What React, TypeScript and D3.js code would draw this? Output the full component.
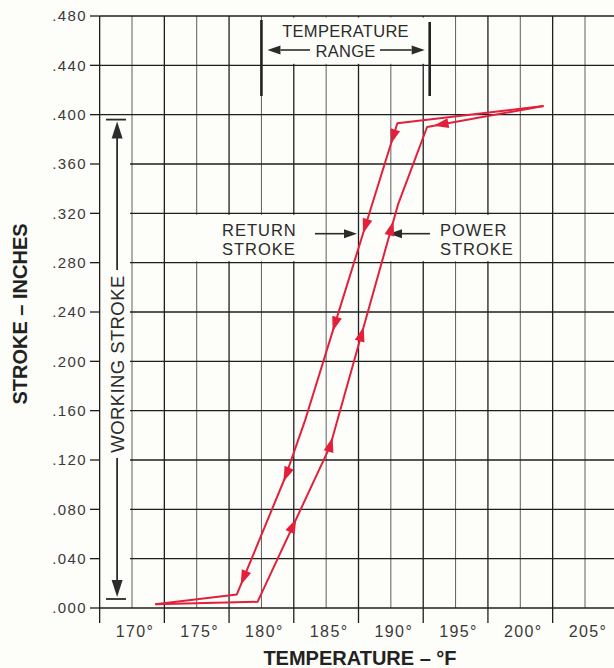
import React from 'react';
import * as d3 from 'd3';

const W = 614;
const H = 668;

// Axis ticks
const xTickTemps = [170, 175, 180, 185, 190, 195, 200, 205];
const xTickLabels = ['170°', '175°', '180°', '185°', '190°', '195°', '200°', '205°'];
const yTickValues = [0, 0.04, 0.08, 0.12, 0.16, 0.2, 0.24, 0.28, 0.32, 0.36, 0.4, 0.44, 0.48];
const yTickLabels = ['.000', '.040', '.080', '.120', '.160', '.200', '.240', '.280', '.320', '.360', '.400', '.440', '.480'];

// Power stroke (heating, upward)
const powerTemp = [171.8, 179.7, 185.3, 190.55, 192.8, 201.8];
const powerStroke = [0.003, 0.005, 0.131, 0.327, 0.39, 0.407];
// Return stroke (cooling, downward)
const returnTemp = [201.8, 190.5, 185.7, 183.4, 181.8, 178.1, 171.8];
const returnStroke = [0.407, 0.393, 0.231, 0.153, 0.105, 0.011, 0.003];

// Arrowhead positions (temperature) along each curve
const powerArrowTemps = [182.7, 185.5, 187.9, 190.2];
const returnArrowTemps = [190.0, 187.85, 185.5, 181.7, 178.4];
const powerTopArrowTemp = [193.3];

// Annotations
const tempRange = [180, 193];
const workingStroke = [0.0073, 0.396];

const RED = '#e3203c';
const INK = '#2b2b2b';
const BG = '#fdfdf9';
const FONT = '"Liberation Sans", Arial, Helvetica, sans-serif';

const x = d3.scaleLinear().domain([170, 205]).range([132, 585]);
const y = d3.scaleLinear().domain([0, 0.48]).range([608, 16]);

type Pt = [number, number];

function arrowAt(temps: number[], vals: number[], t: number, reverse = false): string {
  const pts: Pt[] = temps.map((tt, i) => [x(tt), y(vals[i])]);
  for (let i = 0; i < pts.length - 1; i++) {
    const a = temps[i], b = temps[i + 1];
    if ((t - a) * (t - b) <= 0) {
      const f = (t - a) / (b - a);
      const px = pts[i][0] + f * (pts[i + 1][0] - pts[i][0]);
      const py = pts[i][1] + f * (pts[i + 1][1] - pts[i][1]);
      let dx = pts[i + 1][0] - pts[i][0];
      let dy = pts[i + 1][1] - pts[i][1];
      const L = Math.hypot(dx, dy);
      dx /= L; dy /= L;
      if (reverse) { dx = -dx; dy = -dy; }
      const len = 15, hw = 5;
      const bx = px - dx * len, by = py - dy * len;
      return `M${px},${py}L${bx - dy * hw},${by + dx * hw}L${bx + dy * hw},${by - dx * hw}Z`;
    }
  }
  return '';
}

function blackArrow(x1: number, x2: number, yy: number): React.ReactNode {
  const dir = Math.sign(x2 - x1);
  const len = 13, hw = 4.5;
  const bx = x2 - dir * len;
  return (
    <g>
      <line x1={x1} y1={yy} x2={bx} y2={yy} stroke={INK} strokeWidth={1.6} />
      <path d={`M${x2},${yy}L${bx},${yy - hw}L${bx},${yy + hw}Z`} fill={INK} />
    </g>
  );
}

export default function App() {
  const powerPts: Pt[] = powerTemp.map((t, i) => [x(t), y(powerStroke[i])]);
  const returnPts: Pt[] = returnTemp.map((t, i) => [x(t), y(returnStroke[i])]);
  const lineGen = d3.line<Pt>().x((d) => d[0]).y((d) => d[1]);

  const vTemps = d3.range(167.5, 207.6, 2.5);
  const x0 = x(167.5);
  const clearedHoriz = new Set([0.04, 0.08, 0.12, 0.16, 0.2, 0.24, 0.28, 0.32, 0.36]);
  const wsX = x(168.85);

  const rangeMid = x((tempRange[0] + tempRange[1]) / 2);
  const labelY = y(0.3035);

  return (
    <svg
      width={W}
      height={H}
      viewBox={`0 0 ${W} ${H}`}
      style={{ position: 'absolute', left: 0, top: 0, display: 'block' }}
      fontFamily={FONT}
    >
      <rect x={0} y={0} width={W} height={H} fill={BG} />

      {/* vertical grid */}
      {vTemps.map((t) => {
        const major = Math.abs((t - 167.5) % 5) < 1e-6;
        return (
          <line
            key={'v' + t}
            x1={x(t)}
            x2={x(t)}
            y1={y(0.48)}
            y2={major ? 623 : y(0)}
            stroke={major ? '#1e1e1e' : '#5e5e5e'}
            strokeWidth={major ? 1.3 : 1}
          />
        );
      })}

      {/* white-outs behind labels */}
      <rect x={x(180) + 2} y={y(0.48) + 1.5} width={x(193) - x(180) - 4} height={y(0.44) - y(0.48) - 3} fill={BG} />
      <rect x={190} y={y(0.32) + 1.5} width={116} height={y(0.28) - y(0.32) - 3} fill={BG} />
      <rect x={386} y={y(0.32) + 1.5} width={131} height={y(0.28) - y(0.32) - 3} fill={BG} />

      {/* horizontal grid + ticks */}
      {yTickValues.map((v) => {
        const cleared = clearedHoriz.has(Math.round(v * 100) / 100);
        return (
          <g key={'h' + v}>
            <line x1={90} x2={x0} y1={y(v)} y2={y(v)} stroke="#1e1e1e" strokeWidth={1.3} />
            <line x1={cleared ? 130 : x0} x2={W} y1={y(v)} y2={y(v)} stroke="#1e1e1e" strokeWidth={1.3} />
          </g>
        );
      })}

      {/* y tick labels */}
      {yTickValues.map((v, i) => (
        <text
          key={'yl' + v}
          x={87}
          y={y(v)}
          dy="0.36em"
          textAnchor="end"
          fontSize={15}
          letterSpacing={1.4}
          fill="#3a3a3a"
        >
          {yTickLabels[i]}
        </text>
      ))}

      {/* x tick labels */}
      {xTickTemps.map((t, i) => (
        <text
          key={'xl' + t}
          x={x(t) + 3}
          y={637}
          textAnchor="middle"
          fontSize={16}
          letterSpacing={1.4}
          fill="#3a3a3a"
        >
          {xTickLabels[i]}
        </text>
      ))}

      {/* axis titles */}
      <text x={360} y={665} textAnchor="middle" fontSize={20} fontWeight="bold" fill="#222">
        TEMPERATURE – °F
      </text>
      <text
        transform={`translate(27,${314}) rotate(-90)`}
        textAnchor="middle"
        fontSize={20}
        fontWeight="bold"
        fill="#222"
      >
        STROKE – INCHES
      </text>

      {/* temperature range annotation */}
      <line x1={x(tempRange[0])} x2={x(tempRange[0])} y1={20} y2={96} stroke="#222" strokeWidth={2.6} />
      <line x1={x(tempRange[1])} x2={x(tempRange[1])} y1={22} y2={96} stroke="#222" strokeWidth={2.6} />
      <text x={rangeMid} y={37} textAnchor="middle" fontSize={16.5} letterSpacing={0.3} fill={INK}>
        TEMPERATURE
      </text>
      <text x={rangeMid} y={57} textAnchor="middle" fontSize={16.5} letterSpacing={0.3} fill={INK}>
        RANGE
      </text>
      {blackArrow(310, x(tempRange[0]) + 6, 50)}
      {blackArrow(380, x(tempRange[1]) - 5, 50)}

      {/* working stroke annotation */}
      <line x1={106} x2={126} y1={y(workingStroke[1])} y2={y(workingStroke[1])} stroke={INK} strokeWidth={1.8} />
      <line x1={106} x2={126} y1={y(workingStroke[0])} y2={y(workingStroke[0])} stroke={INK} strokeWidth={1.8} />
      <line x1={wsX} x2={wsX} y1={y(workingStroke[1]) + 12} y2={270} stroke={INK} strokeWidth={1.8} />
      <line x1={wsX} x2={wsX} y1={458} y2={y(workingStroke[0]) - 12} stroke={INK} strokeWidth={1.8} />
      <path
        d={`M${wsX},${y(workingStroke[1]) + 2}L${wsX - 5.5},${y(workingStroke[1]) + 19}L${wsX + 5.5},${y(workingStroke[1]) + 19}Z`}
        fill={INK}
      />
      <path
        d={`M${wsX},${y(workingStroke[0]) - 2}L${wsX - 5.5},${y(workingStroke[0]) - 19}L${wsX + 5.5},${y(workingStroke[0]) - 19}Z`}
        fill={INK}
      />
      <text
        transform={`translate(${wsX + 7},${364}) rotate(-90)`}
        textAnchor="middle"
        fontSize={18.5}
        letterSpacing={0.4}
        fill={INK}
      >
        WORKING STROKE
      </text>

      {/* stroke labels */}
      <text x={222} y={236} fontSize={16.5} letterSpacing={1} fill={INK}>RETURN</text>
      <text x={222} y={255} fontSize={16.5} letterSpacing={1} fill={INK}>STROKE</text>
      <text x={440} y={236} fontSize={16.5} letterSpacing={1} fill={INK}>POWER</text>
      <text x={440} y={255} fontSize={16.5} letterSpacing={1} fill={INK}>STROKE</text>
      {blackArrow(315, 357, labelY)}
      {blackArrow(430, 389, labelY)}

      {/* curves */}
      <path d={lineGen(returnPts) || ''} fill="none" stroke={RED} strokeWidth={2} strokeLinejoin="round" />
      <path d={lineGen(powerPts) || ''} fill="none" stroke={RED} strokeWidth={2} strokeLinejoin="round" />

      {returnArrowTemps.map((t) => (
        <path key={'ra' + t} d={arrowAt(returnTemp, returnStroke, t)} fill={RED} />
      ))}
      {powerArrowTemps.map((t) => (
        <path key={'pa' + t} d={arrowAt(powerTemp, powerStroke, t)} fill={RED} />
      ))}
      {powerTopArrowTemp.map((t) => (
        <path key={'pt' + t} d={arrowAt(powerTemp, powerStroke, t, true)} fill={RED} />
      ))}
    </svg>
  );
}
